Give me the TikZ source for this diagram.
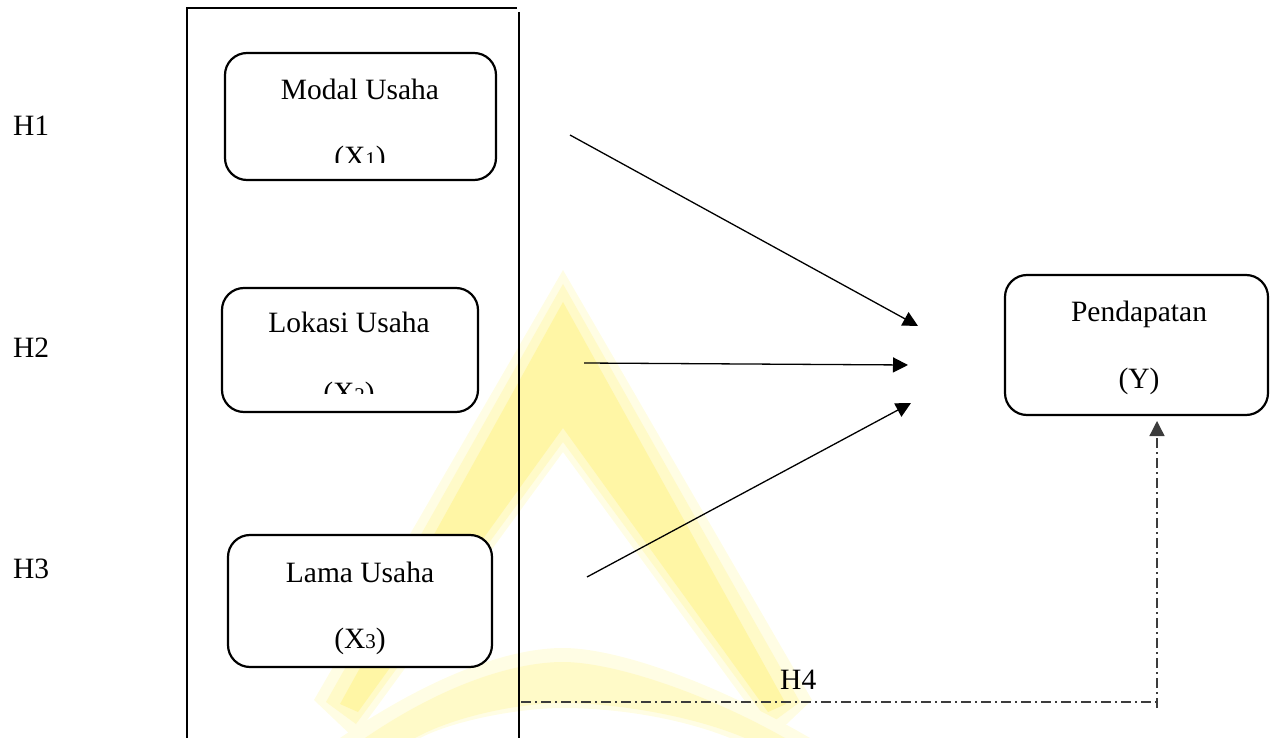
\documentclass[tikz,border=0pt]{standalone}
\usepackage{fontspec}
\setmainfont{Liberation Serif}
\usetikzlibrary{arrows.meta}
\definecolor{wmA}{RGB}{255,246,165}
\definecolor{wmB}{RGB}{255,250,200}
\definecolor{wmC}{RGB}{255,253,228}
\definecolor{ddgray}{RGB}{60,60,60}
\begin{document}
\begin{tikzpicture}[x=1pt,y=-1pt,
  vbox/.style={draw=black,line width=2.2pt,rounded corners=22pt,fill=white,inner sep=0pt},
  lbl/.style={anchor=base,inner sep=0pt,font=\fontsize{29.5}{35}\selectfont},
  hlbl/.style={anchor=base west,inner sep=0pt,font=\fontsize{29.5}{35}\selectfont},
  frame/.style={draw=black,line width=1.3pt},
  arr/.style={draw=black,line width=1.3pt,-{Triangle[length=15pt,width=15pt]}},
  dd/.style={draw=ddgray,line width=1.3pt,dash pattern=on 10pt off 4pt on 2pt off 4pt}]
\useasboundingbox (0,0) rectangle (1278,738);
% watermark
\fill[wmC] (563,270) -- (812,700) -- (772,738) -- (563,452) -- (354,738) -- (314,700) -- cycle;
\fill[wmB] (563,284) -- (800,702) -- (770,724) -- (563,442) -- (356,724) -- (326,702) -- cycle;
\fill[wmA] (563,302) -- (786,704) -- (768,712) -- (563,428) -- (358,712) -- (340,704) -- cycle;
\fill[wmC] (340,738) .. controls (440,670) and (515,648) .. (563,648) .. controls (615,648) and (710,680) .. (810,738) -- (730,738) .. controls (675,716) and (610,708) .. (563,708) .. controls (520,708) and (455,720) .. (420,738) -- cycle;
\fill[wmB] (365,738) .. controls (450,680) and (520,662) .. (563,662) .. controls (610,662) and (700,690) .. (785,738) -- (745,738) .. controls (688,714) and (610,703) .. (563,703) .. controls (520,703) and (455,716) .. (415,738) -- cycle;
% frame
\draw[frame] (187,738) -- (187,8) -- (517,8);
\draw[frame] (519,12) -- (519,738);
% boxes
\node[vbox,minimum width=271pt,minimum height=127pt] (modal) at (360.5,116.5) {};
\node[vbox,minimum width=256pt,minimum height=124pt] (lokasi) at (350,350) {};
\node[vbox,minimum width=264pt,minimum height=132pt] (lama) at (360,601) {};
\node[vbox,minimum width=263pt,minimum height=140pt] (pend) at (1136.5,345) {};
% texts
\node[lbl] (tmodal) at (360,100) {Modal Usaha};
\begin{scope}
\clip (200,0) rectangle (520,163);
\node[lbl] (xmodal) at (360,167) {(X{\fontsize{21}{21}\selectfont 1})};
\end{scope}
\node[lbl] (tlokasi) at (349,333) {Lokasi Usaha};
\begin{scope}
\clip (200,300) rectangle (520,393);
\node[lbl] (xlokasi) at (349,402) {(X{\fontsize{21}{21}\selectfont 2})};
\end{scope}
\node[lbl] (tlama) at (360,582) {Lama Usaha};
\node[lbl] (xlama) at (360,648) {(X{\fontsize{21}{21}\selectfont 3})};
\node[lbl] (tpend) at (1139,322) {Pendapatan};
\node[lbl] (ypend) at (1139,388) {(Y)};
\node[hlbl] (h1) at (13,136) {H1};
\node[hlbl] (h2) at (13,357) {H2};
\node[hlbl] (h3) at (13,578) {H3};
\node[hlbl] (h4) at (780,689) {H4};
% arrows
\coordinate (a1s) at (570,135);
\coordinate (a1e) at (918,326);
\coordinate (a2s) at (584,363);
\coordinate (a2e) at (908,365);
\coordinate (a3s) at (587,577);
\coordinate (a3e) at (911,403);
\draw[arr] (a1s) -- (a1e);
\draw[arr] (a2s) -- (a2e);
\draw[arr] (a3s) -- (a3e);
\coordinate (h4s) at (521,702);
\coordinate (h4c) at (1157,702);
\coordinate (h4b) at (1157,708);
\coordinate (h4e) at (1157,421);
\draw[dd] (h4s) -- (h4c);
\draw[dd,-{Triangle[length=15pt,width=15pt]}] (h4b) -- (h4e);
\end{tikzpicture}
\end{document}
